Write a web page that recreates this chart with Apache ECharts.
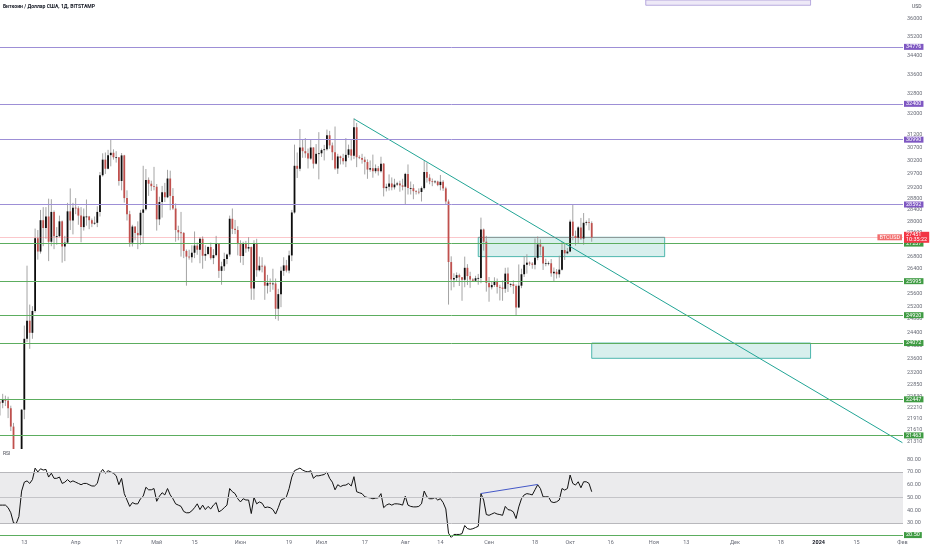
<!DOCTYPE html>
<html><head><meta charset="utf-8">
<script src="https://cdn.jsdelivr.net/npm/echarts@6/dist/echarts.min.js"></script>
<style>html,body{margin:0;padding:0;background:#fff}#c{width:932px;height:550px}</style>
</head><body><div id="c"></div>
<script>
// ---------- DATA (daily candles [open, high, low, close], from 2023-03-04) ----------
const candlesMar = [
[22360,22410,22000,22350],[22350,22600,22200,22430],[22430,22550,22260,22410],[22410,22520,21930,22200],
[22200,22270,21580,21700],[21700,21800,20050,20360],[20360,20370,19570,20190],[20190,20850,19950,20630],
[20630,22180,20440,22160],[22160,24600,21900,24200],[24200,26500,24100,24750],[24750,25250,23900,24380],
[24380,25200,24200,25050],[25050,27750,25000,27420],[27420,27700,26700,26970],[26970,28400,26900,28040],
[28040,28500,27150,27770],[27770,28500,27400,28170],[28170,28800,26650,27300],[27300,28780,27150,28330],
[28330,28380,27050,27490],[27490,27800,27200,27490],[27490,28200,27450,28000],[28000,28030,26600,27140],
[27140,27500,26650,27270],[27270,28650,27250,28350],[28350,29170,27700,28030],[28030,28650,27550,28480]];
const candlesApr = [
[28480,28820,28250,28460],[28460,28530,27880,28200],[28200,28500,27280,27800],[27800,28450,27680,28170],
[28170,28770,27850,28170],[28170,28190,27730,28040],[28040,28100,27800,27920],[27920,28170,27880,27950],
[27950,28530,27800,28330],[28330,29770,28170,29650],[29650,30470,29600,30230],[30230,30500,29700,29890],
[29890,30600,29870,30400],[30400,31000,29980,30490],[30490,30620,30230,30320],[30320,30550,30120,30320],
[30320,30320,29270,29440],[29440,30480,29100,30390],[30390,30410,28660,28820],[28820,29100,28030,28250],
[28250,28370,27130,27270],[27270,27880,27140,27820],[27820,27820,27350,27600],[27600,28000,27050,27520],
[27520,28400,27200,28300],[28300,30000,27250,28420],[28420,29880,28380,29480],[29480,29570,28900,29340],
[29340,29450,29080,29250],[29250,29960,29100,29230]];
const candlesMay = [
[29230,29330,27680,28070],[28070,28870,27870,28680],[28680,29260,28130,29030],[29030,29370,28680,28850],
[28850,29850,28820,29530],[29530,29820,28390,28900],[28900,29180,28400,28450],[28450,28630,27300,27700],
[27700,27850,27350,27620],[27620,28330,26800,27600],[27600,27630,26750,26990],[26990,27040,25850,26800],
[26800,27030,26700,26780],[26780,27180,26600,26930],[26930,27650,26750,27170],[27170,27270,26860,27030],
[27030,27450,26580,27400],[27400,27480,26400,26830],[26830,27180,26660,26890],[26890,27150,26850,27120],
[27120,27270,26700,26750],[26750,27050,26550,26850],[26850,27500,26810,27230],[27230,27230,26100,26330],
[26330,26630,25880,26480],[26480,26930,26330,26720],[26720,26900,26550,26870],[26870,28200,26800,28090],
[28090,28450,27560,27740],[27740,28050,27560,27700],[27700,27830,26840,27220]];
const candlesJun = [
[27220,27350,26600,26820],[26820,27300,26520,27250],[27250,27330,26930,27070],[27070,27450,26970,27120],
[27120,27140,25400,25760],[25760,27350,25400,27240],[27240,27400,26140,26350],[26350,26800,26310,26500],
[26500,26780,26280,26480],[26480,26530,25400,25850],[25850,26200,25600,25940],[25940,26080,25650,25900],
[25900,26400,25720,25920],[25920,26080,24800,25120],[25120,25750,24750,25580],[25580,26470,25170,26330],
[26330,26780,26170,26510],[26510,26690,26280,26340],[26340,27000,26250,26840],[26840,28400,26650,28310],
[28310,30800,28270,30000],[30000,30500,29550,29890],[29890,31400,29800,30690],[30690,31000,30300,30550],
[30550,31050,30300,30470],[30470,30650,29900,30270],[30270,31000,30220,30690],[30690,30700,29900,30080],
[30080,30820,30050,30450],[30450,31280,29500,30470]];
const candlesJul = [
[30470,30650,30330,30590],[30590,30790,30200,30620],[30620,31380,30570,31160],[31160,31330,30640,30770],
[30770,30880,30210,30510],[30510,31500,29850,29900],[29900,30450,29700,30350],[30350,30380,30050,30290],
[30290,30450,30050,30170],[30170,31050,29950,30410],[30410,30800,30300,30620],[30620,30980,30200,30380],
[30380,31820,30250,31470],[31470,31640,29950,30320],[30320,30390,30250,30290],[30290,30450,30080,30230],
[30230,30340,29680,30140],[30140,30240,29520,29860],[29860,30200,29780,29910],[29910,30420,29560,29800],
[29800,30050,29720,29910],[29910,29990,29640,29800],[29800,30340,29750,30080],[30080,30100,28880,29180],
[29180,29340,29060,29230],[29230,29680,29090,29350],[29350,29570,29100,29210],[29210,29520,29130,29310],
[29310,29410,29260,29350],[29350,29450,29050,29280],[29280,29520,29100,29230]];
const candlesAug = [
[29230,29740,28580,29700],[29700,30050,28950,29180],[29180,29420,28950,29180],[29180,29320,28780,29070],
[29070,29110,28950,29050],[29050,29170,28960,29040],[29040,29240,28700,29180],[29180,30200,29130,29770],
[29770,30120,29380,29560],[29560,29690,29320,29430],[29430,29530,29250,29400],[29400,29470,29350,29420],
[29420,29450,29250,29290],[29290,29660,29100,29410],[29410,29470,29080,29170],[29170,29230,28600,28700],
[28700,28770,25250,26620],[26620,26810,25700,26050],[26050,26250,25800,26100],[26100,26280,26000,26190],
[26190,26240,25840,26120],[26120,26130,25370,26040],[26040,26800,25800,26430],[26430,26550,25870,26160],
[26160,26300,25780,26050],[26050,26090,25980,26010],[26010,26170,25970,26090],[26090,26230,25880,26100],
[26100,28130,25930,27720],[27720,27750,27000,27300],[27300,27500,25660,25940]];
const candlesSep = [
[25940,26130,25340,25800],[25800,25970,25730,25870],[25870,26120,25810,25970],[25970,26080,25600,25810],
[25810,25880,25380,25790],[25790,26020,25370,25750],[25750,26430,25620,26240],[26240,26440,25650,25900],
[25900,25940,25800,25900],[25900,26020,25590,25840],[25840,25890,24920,25160],[25160,26540,25140,25850],
[25850,26400,25770,26220],[26220,26820,26130,26530],[26530,26880,26240,26600],[26600,26640,26500,26570],
[26570,26620,26400,26530],[26530,27410,26380,26760],[26760,27480,26680,27210],[27210,27380,26840,27130],
[27130,27160,26360,26570],[26570,26730,26480,26580],[26580,26640,26510,26580],[26580,26720,26140,26250],
[26250,26440,25990,26300],[26300,26390,26080,26220],[26220,26830,26110,26370],[26370,27300,26340,27020],
[27020,27230,26690,26910],[26910,27090,26880,26970]];
const candlesOct = [
[26970,28060,26950,27990],[27990,28590,27350,27500],[27500,27680,27170,27430],[27430,27830,27250,27790],
[27790,28120,27360,27410],[27410,28290,27200,27950],[27950,28030,27860,27970],[27970,28110,27690,27940],
[27940,28000,27300,27451]];

const rsiMar = [44,44,44,42,38,30,29.5,35,55,62,63,61,64,73,70,72.5,71.5,72,66,69,65,65,66,61,62,64,62,63];
const rsiApr = [62,61,60,61,61,60,59,59,61,69,72,69,71,70,69,67,60,65,53,48,43,46,45,45,49,51,58,56,56,57];
const rsiMay = [47,51,53.7,52,57,52,49,45,44,43,39,38,38,39.5,42,45,40.5,44,40.5,43,41,44,46,38.7,40,42,44,57,54.5,53,49];
const rsiJun = [46.5,49,48,48,37.4,50,45,46.5,45.5,42,42.5,42,40.5,37,42,48,49,50.5,57,66,71,72,73,71.5,70.5,70,71,65,67,67];
const rsiJul = [67.5,68,70,65,62,56,60,58.5,59.5,59.7,61,59,66.3,54.5,53.7,53,50.5,50,49.7,49,49.5,49.7,53,42,44,45,44,45,45,44.7,44];
const rsiAug = [51,44,43,42.6,42.6,43,45,55,50.5,49,49,50,48,49,46,41,22,18.5,21,21,21,21.6,28,25.6,25,25.5,26.4,27.4,53,48,36.6];
const rsiSep = [36,37,38,37,36.6,36,43,40.5,40,38.7,33.5,42.6,49,52,53,52.6,52,56,60,57,50.5,50.5,50.5,46.6,46,46.6,48,57,55.8,57];
const rsiOct = [67.6,61,59.7,62.3,57.6,62.3,62.3,61,54.5];

const resistanceLevels = [34776, 32400, 30990, 28592];
const supportLevels = [27237, 25995, 24920, 24072, 22447, 21463];
const lastPrice = 27451;
const countdown = '10:35:22';
const symbolName = 'BTCUSD';

const priceTicks = [36000,35200,34400,33600,32800,32000,31200,30700,30200,29700,29200,28800,28400,28000,27600,
  26800,26400,25600,25200,24800,24400,24000,23600,23200,22850,22530,22210,21910,21610,21310];
const rsiTicks = [30,40,50,60,70,80];
const rsiLevel = 20.5;
const timeTickDates = ['2023-03-13','2023-04-01','2023-04-17','2023-05-01','2023-05-15','2023-06-01','2023-06-19',
  '2023-07-01','2023-07-17','2023-08-01','2023-08-14','2023-09-01','2023-09-18','2023-10-01','2023-10-16',
  '2023-11-01','2023-11-13','2023-12-01','2023-12-18','2024-01-01','2024-01-15','2024-02-01'];
const timeTickLabels = ['13','Апр','17','Май','15','Июн','19','Июл','17','Авг','14','Сен','18','Окт','16',
  'Ноя','13','Дек','18','2024','15','Фев'];

// zones: [fromDate, toDate, lowPrice, highPrice]
const greenZones = [['2023-08-28','2023-11-05',26800,27450],['2023-10-09','2023-12-29',23620,24072]];
const purpleZones = [['2023-10-29','2023-12-29',36620,36860]];
const trendLine = [['2023-07-13',31800],['2024-02-01',21270]];
const rsiDivergence = [['2023-08-29',53.1],['2023-09-19',60.2]];

const axisStartDate = '2023-03-04';
const axisEndDate = '2024-02-01T05:00:00Z';
const titleText = 'Биткоин / Доллар США, 1Д, BITSTAMP';

// ---------- BUILD ----------
const DAY = 86400000;
const ts = s => new Date(s).getTime();
const startTs = ts(axisStartDate);
const endTs = ts(axisEndDate);
const candles = [].concat(candlesMar, candlesApr, candlesMay, candlesJun, candlesJul, candlesAug, candlesSep, candlesOct);
const rsi = [].concat(rsiMar, rsiApr, rsiMay, rsiJun, rsiJul, rsiAug, rsiSep, rsiOct);
const dates = candles.map((_, i) => startTs + i * DAY);
const candleData = candles.map((r, i) => [dates[i], r[0], r[1], r[2], r[3]]);
const rsiData = rsi.map((v, i) => [dates[i], v]);
const timeTickTs = timeTickDates.map(ts);

const FONT = 'Roboto, "Liberation Sans", sans-serif';
const AX = '#6a6d78';
const UP = '#0d0d0d', DOWN = '#c0504d', WICK = '#9a9a9a';
const PURPLE_LINE = '#9d8fd6', PURPLE_TAG = '#7e57c2';
const GREEN_LINE = '#5cad5f', GREEN_TAG = '#3f9b43';
const RED = '#f23645';

function tag(text, bg, extra) {
  return Object.assign({show: true, position: 'end', formatter: text, backgroundColor: bg, color: '#fff',
    fontSize: 5.5, lineHeight: 6, padding: [0, 2, 0, 2], distance: 1, fontFamily: FONT}, extra || {});
}

const levelLines = [];
supportLevels.forEach(v => levelLines.push({yAxis: v, lineStyle: {color: GREEN_LINE, width: 1, type: 'solid'}, label: tag(String(v), GREEN_TAG)}));
resistanceLevels.forEach(v => levelLines.push({yAxis: v, lineStyle: {color: PURPLE_LINE, width: 1, type: 'solid'}, label: tag(String(v), PURPLE_TAG)}));
levelLines.push({yAxis: lastPrice, lineStyle: {color: 'rgba(242,54,69,0)', width: 0}, label: tag(symbolName, '#f26d6d', {align: 'right', distance: -1})});
levelLines.push({yAxis: lastPrice, lineStyle: {color: 'rgba(242,54,69,0.28)', width: 1, type: 'solid'}, label: tag(lastPrice + '\n' + countdown, RED, {lineHeight: 5.2, padding: [0.3, 2, 0.3, 2]})});

const zoneAreas = [];
greenZones.forEach(z => zoneAreas.push([{xAxis: ts(z[0]), yAxis: z[2], itemStyle: {color: 'rgba(38,166,154,0.18)', borderColor: '#26a69a', borderWidth: 0.8}}, {xAxis: ts(z[1]), yAxis: z[3]}]));
purpleZones.forEach(z => zoneAreas.push([{xAxis: ts(z[0]), yAxis: z[2], itemStyle: {color: 'rgba(149,117,205,0.16)', borderColor: '#a898d8', borderWidth: 0.8}}, {xAxis: ts(z[1]), yAxis: z[3]}]));

function dateLabel(v) {
  let idx = 0, best = Infinity;
  timeTickTs.forEach((t, i) => { const d = Math.abs(t - v); if (d < best) { best = d; idx = i; } });
  const s = timeTickLabels[idx];
  return /^\d{4}$/.test(s) ? '{b|' + s + '}' : s;
}

function renderCandle(params, api) {
  const x = api.value(0), o = api.value(1), h = api.value(2), l = api.value(3), c = api.value(4);
  const pO = api.coord([x, o]), pC = api.coord([x, c]);
  const pH = api.coord([x, h]), pL = api.coord([x, l]);
  const w = 1.8;
  const top = Math.min(pO[1], pC[1]);
  const hgt = Math.max(0.8, Math.abs(pO[1] - pC[1]));
  return {type: 'group', children: [
    {type: 'line', shape: {x1: pH[0], y1: pH[1], x2: pL[0], y2: pL[1]}, style: {stroke: WICK, lineWidth: 0.9}},
    {type: 'rect', shape: {x: pO[0] - w / 2, y: top, width: w, height: hgt}, style: {fill: c >= o ? UP : DOWN}}
  ]};
}

const chart = echarts.init(document.getElementById('c'), null, {renderer: 'canvas'});
chart.setOption({
  animation: false,
  backgroundColor: '#fff',
  textStyle: {fontFamily: FONT},
  title: [
    {text: titleText, left: 3, top: 4, padding: 0, textStyle: {fontSize: 5.1, fontWeight: 'bold', color: '#131722', fontFamily: FONT}},
    {text: 'RSI', left: 3, top: 451, padding: 0, textStyle: {fontSize: 5, fontWeight: 'normal', color: '#4a4d57', fontFamily: FONT}},
    {text: 'USD', left: 912, top: 4, padding: 0, textStyle: {fontSize: 5, fontWeight: 'normal', color: '#4a4d57', fontFamily: FONT}}
  ],
  grid: [
    {left: 0, right: 29, top: 0, height: 449, containLabel: false},
    {left: 0, right: 29, top: 449, height: 88, containLabel: false}
  ],
  xAxis: [
    {type: 'value', gridIndex: 0, min: startTs, max: endTs, show: false, splitLine: {show: false}},
    {type: 'value', gridIndex: 1, min: startTs, max: endTs,
      axisLine: {show: false}, axisTick: {show: false}, splitLine: {show: false},
      axisLabel: {customValues: timeTickTs, hideOverlap: false, fontSize: 5.5, color: AX, margin: 3, fontFamily: FONT,
        formatter: dateLabel,
        rich: {b: {fontWeight: 'bold', fontSize: 5.5, color: '#131722', fontFamily: FONT}}}}
  ],
  yAxis: [
    {type: 'log', logBase: 10, gridIndex: 0, position: 'right', min: 21104, max: 36860,
      axisLine: {show: false}, axisTick: {show: false}, splitLine: {show: false},
      axisLabel: {customValues: priceTicks, formatter: v => String(Math.round(v)), fontSize: 5.5, color: AX, margin: 4, fontFamily: FONT}},
    {type: 'value', gridIndex: 1, position: 'right', min: 19, max: 88,
      axisLine: {show: false}, axisTick: {show: false}, splitLine: {show: false},
      axisLabel: {customValues: rsiTicks, formatter: v => Number(v).toFixed(2), fontSize: 5.5, color: AX, margin: 4, fontFamily: FONT}}
  ],
  series: [
    {type: 'custom', name: 'BTCUSD', xAxisIndex: 0, yAxisIndex: 0, data: candleData, renderItem: renderCandle,
      clip: true, silent: true, encode: {x: 0, y: [1, 2, 3, 4]},
      markArea: {silent: true, data: zoneAreas},
      markLine: {silent: true, symbol: ['none', 'none'], data: levelLines}},
    {type: 'line', name: 'trend', xAxisIndex: 0, yAxisIndex: 0, data: trendLine.map(p => [ts(p[0]), p[1]]),
      symbol: 'none', silent: true, clip: true, lineStyle: {color: '#22a596', width: 1}},
    {type: 'line', name: 'RSI', xAxisIndex: 1, yAxisIndex: 1, data: rsiData, symbol: 'none', silent: true,
      lineStyle: {color: '#111', width: 1},
      markArea: {silent: true, itemStyle: {color: '#ebebed'}, data: [[{yAxis: 30}, {yAxis: 70}]]},
      markLine: {silent: true, symbol: ['none', 'none'], data: [
        {yAxis: 70, lineStyle: {color: '#b8b8bc', width: 1, type: 'solid'}, label: {show: false}},
        {yAxis: 50, lineStyle: {color: '#c4c4c8', width: 1, type: 'solid'}, label: {show: false}},
        {yAxis: 30, lineStyle: {color: '#b8b8bc', width: 1, type: 'solid'}, label: {show: false}},
        {yAxis: rsiLevel, lineStyle: {color: GREEN_LINE, width: 1, type: 'solid'}, label: tag(rsiLevel.toFixed(2), GREEN_TAG)}
      ]}},
    {type: 'line', name: 'divergence', xAxisIndex: 1, yAxisIndex: 1, data: rsiDivergence.map(p => [ts(p[0]), p[1]]),
      symbol: 'none', silent: true, lineStyle: {color: '#4458c8', width: 1}}
  ]
});
</script></body></html>
